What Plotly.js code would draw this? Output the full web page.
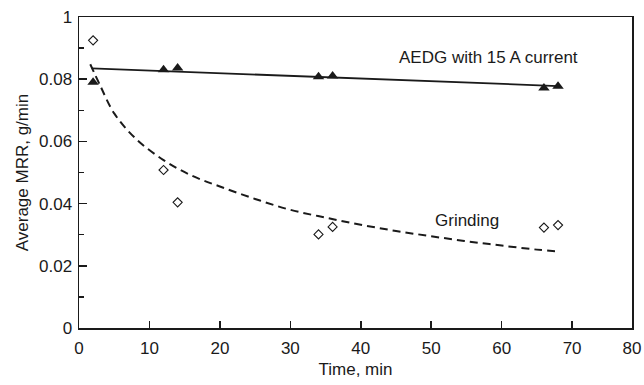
<!DOCTYPE html>
<html>
<head>
<meta charset="utf-8">
<script src="https://cdn.plot.ly/plotly-3.0.1.min.js"></script>
<style>html,body{margin:0;padding:0;background:#fff;}#chart{width:644px;height:385px;}</style>
</head>
<body>
<div id="chart"></div>
<script>
// AEDG with 15 A current (filled triangles)
const aedgTime = [2, 12, 14, 34, 36, 66, 68];
const aedgMRR  = [0.0790, 0.0830, 0.0836, 0.0808, 0.0810, 0.0772, 0.0777];
// AEDG fitted trend line
const aedgFitTime = [1.8, 68];
const aedgFitMRR  = [0.0835, 0.0778];
// Grinding (open diamonds)
const grindTime = [2, 12, 14, 34, 36, 66, 68];
const grindMRR  = [0.0925, 0.0508, 0.0404, 0.0301, 0.0325, 0.0323, 0.0331];
// Grinding fitted trend curve (dashed)
const grindFitTime = [1.6, 3, 5, 8, 12, 16, 20, 25, 30, 35, 40, 45, 50, 55, 60, 65, 68];
const grindFitMRR  = [0.0848, 0.0780, 0.0690, 0.0610, 0.0540, 0.0490, 0.0455, 0.0415, 0.0380, 0.0355, 0.0332, 0.0312, 0.0295, 0.0279, 0.0265, 0.0252, 0.0246];
// Axis ticks
const xTickVals = [0, 10, 20, 30, 40, 50, 60, 70, 78.5];
const xTickText = ["0", "10", "20", "30", "40", "50", "60", "70", "80"];
const yTickVals = [0, 0.02, 0.04, 0.06, 0.08, 0.1];
const yTickText = ["0", "0.02", "0.04", "0.06", "0.08", "1"];

const ink = '#1a1a1a';
const fontFam = 'Liberation Sans, Arial, sans-serif';

const traces = [
  {x: aedgFitTime, y: aedgFitMRR, mode: 'lines', line: {color: ink, width: 1.8}, hoverinfo: 'skip'},
  {x: grindFitTime, y: grindFitMRR, mode: 'lines', line: {color: ink, width: 2, dash: '8px,5px', shape: 'spline'}, hoverinfo: 'skip'},
  {x: grindTime, y: grindMRR, mode: 'markers', marker: {symbol: 'diamond-open', size: 7, color: ink, line: {width: 1.1, color: ink}}},
  {x: aedgTime, y: aedgMRR, mode: 'markers', marker: {symbol: 'triangle-up', size: 10, color: ink}}
];

const layout = {
  width: 644, height: 385,
  margin: {l: 79, r: 12, t: 17, b: 57},
  paper_bgcolor: '#fff', plot_bgcolor: '#fff',
  showlegend: false,
  font: {family: fontFam, size: 17, color: ink},
  xaxis: {
    range: [0, 78.5], tickvals: xTickVals, ticktext: xTickText,
    ticks: 'inside', ticklen: 7, tickwidth: 1.5, tickcolor: ink,
    showline: true, linecolor: ink, linewidth: 1.5, mirror: true,
    showgrid: false, zeroline: false,
    tickfont: {size: 17, family: fontFam, color: ink},
    ticklabelstandoff: 4,
    title: {text: 'Time, min', font: {size: 17, family: fontFam, color: ink}, standoff: 6}
  },
  yaxis: {
    range: [0, 0.1], tickvals: yTickVals, ticktext: yTickText,
    ticks: 'inside', ticklen: 8, tickwidth: 1.5, tickcolor: ink,
    minor: {dtick: 0.01, ticks: 'inside', ticklen: 5, tickwidth: 1.5, tickcolor: ink, showgrid: false},
    showline: true, linecolor: ink, linewidth: 1.5, mirror: true,
    showgrid: false, zeroline: false,
    tickfont: {size: 17, family: fontFam, color: ink},
    ticklabelstandoff: 2,
    title: {text: 'Average MRR, g/min', font: {size: 17, family: fontFam, color: ink}, standoff: 6}
  },
  annotations: [
    {x: 45.15, y: 0.0869, xref: 'x', yref: 'y', text: 'AEDG with 15 A current', showarrow: false, xanchor: 'left', yanchor: 'middle', font: {size: 17, family: fontFam, color: ink}},
    {x: 50.3, y: 0.0347, xref: 'x', yref: 'y', text: 'Grinding', showarrow: false, xanchor: 'left', yanchor: 'middle', font: {size: 17, family: fontFam, color: ink}}
  ]
};

Plotly.newPlot('chart', traces, layout, {displayModeBar: false, staticPlot: true});
</script>
</body>
</html>
